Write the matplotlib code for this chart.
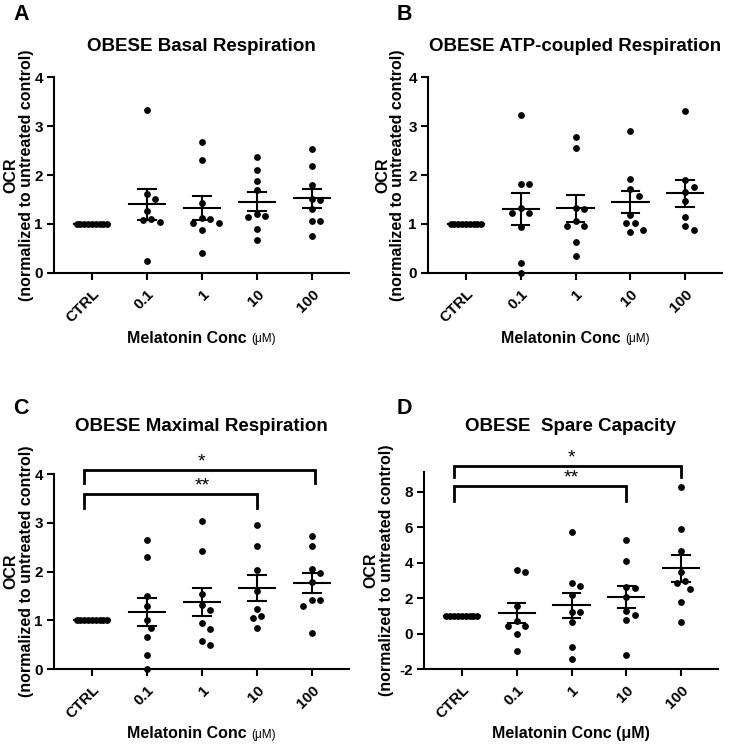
import numpy as np
import matplotlib.pyplot as plt

plt.rcParams['font.family'] = ['Liberation Sans', 'DejaVu Sans']
plt.rcParams['font.weight'] = 'bold'
plt.rcParams['axes.unicode_minus'] = False

groups = ['CTRL', '0.1', '1', '10', '100']

# values (OCR normalized to untreated control)
basal = [
    [1.0] * 9,
    [3.33, 1.61, 1.50, 1.27, 1.09, 1.10, 1.05, 0.24],
    [2.67, 2.31, 1.43, 1.12, 1.10, 1.01, 1.02, 0.88, 0.41],
    [2.36, 2.10, 1.87, 1.69, 1.21, 1.16, 1.14, 0.90, 0.68],
    [2.54, 2.18, 1.79, 1.50, 1.48, 1.31, 1.07, 1.07, 0.76],
]
atp = [
    [1.0] * 9,
    [3.23, 1.82, 1.82, 1.22, 1.22, 1.33, 0.93, 0.20, 0.0],
    [2.77, 2.56, 1.33, 1.31, 1.07, 0.95, 0.95, 0.63, 0.34],
    [2.90, 1.92, 1.72, 1.58, 1.19, 1.02, 1.02, 0.84, 0.88],
    [3.31, 1.90, 1.75, 1.65, 1.46, 1.14, 0.88, 0.95],
]
maximal = [
    [1.0] * 9,
    [2.65, 2.30, 1.50, 1.30, 1.01, 0.85, 0.66, 0.29, 0.0],
    [3.03, 2.43, 1.54, 1.32, 1.22, 0.94, 0.83, 0.58, 0.50],
    [2.95, 2.52, 2.03, 1.61, 1.24, 1.04, 1.08, 0.85],
    [2.72, 2.53, 2.06, 1.79, 1.96, 1.42, 1.42, 1.29, 0.74],
]
spare = [
    [1.0] * 9,
    [3.45, 3.58, 1.57, 0.44, 0.73, 0.44, 0.0, -1.0],
    [5.74, 2.85, 2.70, 2.17, 1.23, 1.23, 0.67, -0.74, -1.43],
    [5.29, 4.09, 2.62, 2.58, 2.05, 1.07, 1.29, 0.78, -1.21],
    [8.25, 5.89, 4.67, 3.45, 2.51, 2.83, 2.98, 1.80, 0.63],
]

titles = ['OBESE Basal Respiration', 'OBESE ATP-coupled Respiration',
          'OBESE Maximal Respiration', 'OBESE  Spare Capacity']
letters = ['A', 'B', 'C', 'D']

W, H = 750, 745
fig = plt.figure(figsize=(W / 100, H / 100), dpi=100)

boxes = [[0.072, 0.6336, 0.393, 0.263],
         [0.5707, 0.6336, 0.392, 0.263],
         [0.072, 0.102, 0.393, 0.2617],
         [0.5653, 0.102, 0.392, 0.2644]]
ylims = [(0, 4), (0, 4), (0, 4), (-2, 9.1)]
yticks = [np.arange(0, 5, 1)] * 3 + [np.arange(-2, 9, 2)]
xlim = (-0.69, 4.67)


def swarm(vals, ppx, ppy, d=8.5):
    # simple beeswarm: horizontal offsets so dots don't overlap
    vals = np.asarray(vals, float)
    if np.ptp(vals) == 0:
        return np.linspace(-0.28, 0.28, len(vals))
    step = d / 2
    placed = []
    offs = np.zeros(len(vals))
    for i in np.argsort(-vals):
        y = vals[i] * ppy
        k = 0
        found = None
        while found is None:
            for c in ([0] if k == 0 else [k * step, -k * step]):
                if all((c - px) ** 2 + (y - py) ** 2 >= d * d for px, py in placed):
                    found = c
                    break
            k += 1
        placed.append((found, y))
        offs[i] = found / ppx
    return offs


axes = []
for n, data in enumerate([basal, atp, maximal, spare]):
    ax = fig.add_axes(boxes[n])
    axes.append(ax)
    ax.set_xlim(*xlim)
    ax.set_ylim(*ylims[n])
    ppx = boxes[n][2] * W / (xlim[1] - xlim[0])
    ppy = boxes[n][3] * H / (ylims[n][1] - ylims[n][0])
    for g, vals in enumerate(data):
        vals = np.array(vals)
        xs = g + swarm(vals, ppx, ppy)
        ax.scatter(xs, vals, s=24, color='black', zorder=3, clip_on=False, linewidths=0)
        m = vals.mean()
        sem = vals.std(ddof=1) / np.sqrt(len(vals))
        ax.plot([g - 0.33, g + 0.33], [m, m], color='black', lw=1.5, zorder=4)
        if sem > 0:
            ax.plot([g, g], [m - sem, m + sem], color='black', lw=1.5, zorder=4)
            for yy in (m - sem, m + sem):
                ax.plot([g - 0.16, g + 0.16], [yy, yy], color='black', lw=1.5, zorder=4)
    for s in ['top', 'right']:
        ax.spines[s].set_visible(False)
    for s in ['left', 'bottom']:
        ax.spines[s].set_linewidth(1.5)
    ax.set_xticks(range(5))
    ax.set_xticklabels(groups, rotation=45, ha='right', rotation_mode='anchor', fontsize=11.5)
    ax.set_yticks(yticks[n])
    ax.tick_params(width=1.5, length=5, labelsize=11, pad=3)
    ax.tick_params(axis='x', pad=5)

    cx = boxes[n][0] + boxes[n][2] / 2
    top = 0.938 if n < 2 else 0.427
    fig.text(cx, top, titles[n], ha='center', va='center', fontsize=13.5)

# y labels
ylab = 'OCR\n(normalized to untreated control)'
for n, x in enumerate([0.025, 0.52, 0.025, 0.505]):
    b = boxes[n]
    fig.text(x, b[1] + b[3] / 2, ylab, rotation=90, ha='center', va='center',
             fontsize=11.5, linespacing=1.0)

# panel letters
for n, (x, y) in enumerate([(0.0173, 0.973), (0.529, 0.973), (0.0173, 0.4443), (0.529, 0.4443)]):
    fig.text(x, y, letters[n], fontsize=15.5, va='baseline', ha='left')

# significance brackets (C and D)
sig = {2: [(3.0, 3.59, 3.30, '**'), (4.05, 4.09, 3.81, '*')],
       3: [(3.0, 8.34, 7.49, '**'), (4.0, 9.43, 8.84, '*')]}
for n, items in sig.items():
    ax = axes[n]
    for xr, ytop, yleg, star in items:
        ax.plot([-0.15, -0.15, xr, xr], [yleg, ytop, ytop, yleg], color='black',
                lw=2, clip_on=False, solid_joinstyle='miter')
        ax.annotate(star, xy=(2.0, ytop), xytext=(0, -0.5), textcoords='offset points',
                    ha='center', va='bottom', fontsize=14, fontweight='normal',
                    annotation_clip=False)

# x labels
fig.canvas.draw()
r = fig.canvas.get_renderer()
for n, y in enumerate([0.5463, 0.5463, 0.0148, 0.0148]):
    b = boxes[n]
    cx = b[0] + b[2] / 2
    if n == 3:
        fig.text(cx, y, 'Melatonin Conc (\u03bcM)', ha='center', va='center', fontsize=11.5)
        continue
    t1 = fig.text(cx, y, 'Melatonin Conc ', ha='left', va='center', fontsize=11.5)
    t2 = fig.text(cx, y, '(\u03bcM)', ha='left', va='center', fontsize=8.5, fontweight='normal')
    w1 = t1.get_window_extent(r).width / W
    w2 = t2.get_window_extent(r).width / W
    x0 = cx - (w1 + w2) / 2
    t1.set_x(x0)
    t2.set_x(x0 + w1)
    t2.set_y(y - 0.002)

fig.savefig('out.png', dpi=100)
